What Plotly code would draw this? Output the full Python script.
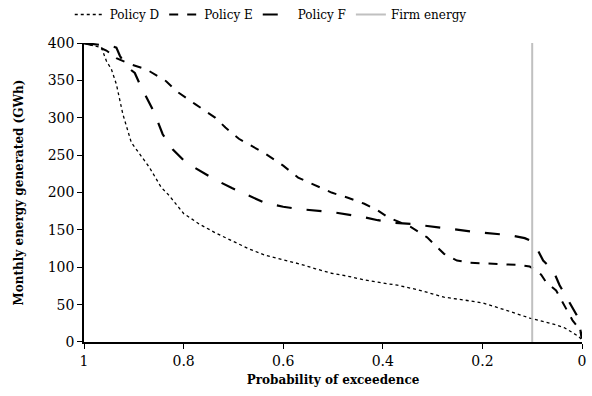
import plotly.graph_objects as go

# Policy D (dotted)
d_p = [1.0, 0.965, 0.955, 0.945, 0.935, 0.922, 0.905, 0.888, 0.869, 0.845, 0.829, 0.80, 0.769, 0.736, 0.703, 0.67, 0.636, 0.60, 0.570, 0.535, 0.503, 0.47, 0.437, 0.41, 0.371, 0.33, 0.277, 0.235, 0.198, 0.15, 0.105, 0.075, 0.052, 0.035, 0.019, 0.008, 0.0]
d_v = [400, 394, 376, 365, 345, 305, 267, 252, 234, 207, 196, 172, 158, 146, 136, 125, 116, 110, 105, 98, 92, 88, 83, 80, 76, 70, 60, 56, 52, 42, 32, 27, 23, 19, 12, 8, 3]

# Policy E (dash)
e_p = [1.0, 0.975, 0.955, 0.935, 0.908, 0.875, 0.835, 0.815, 0.776, 0.736, 0.716, 0.689, 0.636, 0.60, 0.570, 0.535, 0.503, 0.47, 0.437, 0.41, 0.39, 0.365, 0.344, 0.311, 0.277, 0.251, 0.225, 0.191, 0.155, 0.125, 0.105, 0.092, 0.082, 0.072, 0.052, 0.038, 0.019, 0.004, 0.0]
e_v = [400, 396, 390, 380, 372, 365, 349, 336, 318, 300, 287, 272, 252, 236, 220, 210, 200, 193, 185, 176, 167, 160, 154, 140, 118, 109, 106, 105, 104, 103, 101, 96, 90, 80, 69, 52, 29, 16, 5]

# Policy F (long dash)
f_p = [1.0, 0.97, 0.945, 0.935, 0.928, 0.915, 0.898, 0.888, 0.875, 0.859, 0.842, 0.822, 0.795, 0.769, 0.736, 0.703, 0.663, 0.636, 0.60, 0.570, 0.503, 0.437, 0.41, 0.384, 0.344, 0.277, 0.211, 0.145, 0.115, 0.105, 0.092, 0.078, 0.058, 0.045, 0.025, 0.009, 0.002, 0.0]
f_v = [400, 398, 396, 394, 383, 369, 360, 345, 327, 307, 278, 258, 240, 230, 217, 206, 194, 186, 181, 178, 174, 167, 163, 160, 158, 152, 147, 143, 139, 136, 127, 109, 96, 76, 52, 34, 12, 5]

firm_p = [0.1, 0.1]
firm_v = [0, 400]

x_ticks = [1, 0.8, 0.6, 0.4, 0.2, 0]
x_labels = ["1", "0.8", "0.6", "0.4", "0.2", "0"]
y_ticks = [0, 50, 100, 150, 200, 250, 300, 350, 400]

fig = go.Figure()
fig.add_trace(go.Scatter(x=d_p, y=d_v, mode="lines", name="Policy D",
                         line=dict(color="black", width=1.3, dash="dot")))
fig.add_trace(go.Scatter(x=e_p, y=e_v, mode="lines", name="Policy E",
                         line=dict(color="black", width=2, dash="dash")))
fig.add_trace(go.Scatter(x=f_p, y=f_v, mode="lines", name="Policy F",
                         line=dict(color="black", width=2.2, dash="longdash")))
fig.add_trace(go.Scatter(x=firm_p, y=firm_v, mode="lines", name="Firm energy",
                         line=dict(color="#c0c0c0", width=2)))

FF = "DejaVu Serif"
fig.update_layout(
    width=592, height=396,
    margin=dict(l=84, r=6, t=42, b=54),
    paper_bgcolor="white", plot_bgcolor="white",
    font=dict(family=FF, color="black", size=14),
    legend=dict(orientation="h", x=0.375, xanchor="center",
                yref="container", y=1.0, yanchor="top",
                font=dict(family=FF, size=12), itemwidth=30, tracegroupgap=0,
                bgcolor="rgba(0,0,0,0)"),
    xaxis=dict(range=[1, 0], tickvals=x_ticks, ticktext=x_labels,
               showgrid=False, zeroline=False, showline=True, linecolor="black",
               linewidth=1.5, ticks="outside", ticklen=5, tickcolor="black",
               tickfont=dict(family=FF, size=14),
               title=dict(text="<b>Probability of exceedence</b>",
                          font=dict(family=FF, size=12), standoff=8)),
    yaxis=dict(range=[0, 400], tickvals=y_ticks,
               showgrid=False, zeroline=False, showline=True, linecolor="black",
               linewidth=1.5, ticks="outside", ticklen=5, tickcolor="black",
               tickfont=dict(family=FF, size=14),
               title=dict(text="<b>Monthly energy generated (GWh)</b>",
                          font=dict(family=FF, size=12), standoff=22)),
)

fig.write_html("out.html")
